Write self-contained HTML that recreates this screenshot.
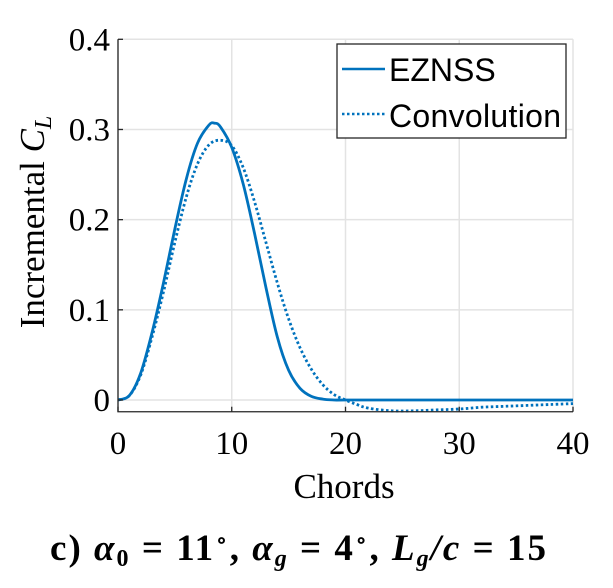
<!DOCTYPE html>
<html><head><meta charset="utf-8"><style>
body{margin:0;background:#fff;}
svg text{font-family:"Liberation Serif",serif;}
</style></head><body>
<svg width="613" height="583" viewBox="0 0 613 583">
<g id="grid"></g>
<g id="series"></g>
<g id="axes"></g>
<g>
<rect x="337" y="44" width="229" height="94" fill="#fff" stroke="#262626" stroke-width="1.3"/>
<line x1="342" y1="69" x2="385" y2="69" stroke="#0072BD" stroke-width="2.5"/>
<text x="389" y="81" font-size="32" style="font-family:'Liberation Sans',sans-serif">EZNSS</text>
<line x1="342" y1="114" x2="385" y2="114" stroke="#0072BD" stroke-width="2.5" stroke-dasharray="2.5,2.5"/>
<text x="389" y="127" font-size="32" textLength="172" style="font-family:'Liberation Sans',sans-serif">Convolution</text>
</g>
<text transform="translate(44,222) rotate(-90)" text-anchor="middle" font-size="35">Incremental <tspan font-style="italic">C</tspan><tspan font-style="italic" font-size="24" dy="7">L</tspan></text>
<text x="344" y="498" text-anchor="middle" font-size="35">Chords</text>
<text x="298" y="560" text-anchor="middle" font-size="37" font-weight="bold" textLength="496">c) <tspan font-style="italic">α</tspan><tspan font-size="24" dy="6">0</tspan><tspan dy="-6"> = 11</tspan><tspan dy="-13" font-size="20">∘</tspan><tspan dy="13">, </tspan><tspan font-style="italic">α</tspan><tspan font-style="italic" font-size="24" dy="6">g</tspan><tspan dy="-6"> = 4</tspan><tspan dy="-13" font-size="20">∘</tspan><tspan dy="13">, </tspan><tspan font-style="italic">L</tspan><tspan font-style="italic" font-size="24" dy="6">g</tspan><tspan dy="-6" font-style="italic">/c</tspan><tspan> = 15</tspan></text>
</svg>
<script>
const xTicks=[0,10,20,30,40];
const yTicks=[0,0.1,0.2,0.3,0.4];
const yTickLabels=["0","0.1","0.2","0.3","0.4"];
const eznssX=[0,1,2,3,4,5,6,7,8,8.5,9,10,11,12,13,14,15,16,17,18,19,20,25,30,35,40];
const eznssY=[0,0.005,0.03,0.075,0.13,0.19,0.245,0.285,0.305,0.307,0.303,0.28,0.24,0.185,0.125,0.07,0.033,0.013,0.004,0.001,0,0,0,0,0,0];
const convX=[0,1,2,3,4,5,6,7,8,9,10,11,12,13,14,15,16,17,18,19,20,21,22,24,26,28,30,32,34,36,38,40];
const convY=[0,0.005,0.028,0.07,0.12,0.175,0.225,0.262,0.283,0.288,0.282,0.258,0.22,0.175,0.13,0.09,0.058,0.034,0.017,0.006,0,-0.005,-0.009,-0.012,-0.012,-0.011,-0.01,-0.008,-0.007,-0.006,-0.005,-0.004];
const X0=118,X1=573,Y0=400,Y1=39.3,YMIN=-0.013;
const sx=v=>X0+(v-0)/40*(X1-X0);
const sy=v=>Y0-(v/0.4)*(Y0-Y1);
const NS="http://www.w3.org/2000/svg";
const grid=document.getElementById('grid'),axes=document.getElementById('axes'),series=document.getElementById('series');
function mk(tag,attrs,parent){const e=document.createElementNS(NS,tag);for(const k in attrs)e.setAttribute(k,attrs[k]);parent.appendChild(e);return e;}
const yBot=sy(YMIN);
xTicks.forEach(t=>{
 const g=mk('line',{x1:sx(t),x2:sx(t),y1:Y1,y2:yBot,stroke:'#e3e3e3','stroke-width':1.5},grid);
 
 
 const tk=mk('line',{x1:sx(t),x2:sx(t),y1:yBot,y2:yBot-5,stroke:'#262626','stroke-width':1.3},axes);
 
 
 const l=mk('text',{x:sx(t),y:454,'text-anchor':'middle','font-size':33},axes);l.textContent=t;
 
 
});
yTicks.forEach((t,i)=>{
 const g=mk('line',{x1:X0,x2:X1,y1:sy(t),y2:sy(t),stroke:'#e3e3e3','stroke-width':1.5},grid);
 
 
 const tk=mk('line',{x1:X0,x2:X0+5,y1:sy(t),y2:sy(t),stroke:'#262626','stroke-width':1.3},axes);
 
 
 const l=mk('text',{x:110,y:sy(t)+11,'text-anchor':'end','font-size':33},axes);l.textContent=yTickLabels[i];
 
 
});
const ax=mk('path',{d:`M${X0},${Y1} L${X0},${yBot} L${X1},${yBot}`,fill:'none',stroke:'#262626','stroke-width':1.3},axes);


function path(xs,ys){
 const p=xs.map((x,i)=>[sx(x),sy(ys[i])]);
 let d='M'+p[0][0].toFixed(1)+','+p[0][1].toFixed(1);
 for(let i=0;i<p.length-1;i++){
  const a=p[Math.max(i-1,0)],b=p[i],c=p[i+1],e=p[Math.min(i+2,p.length-1)];
  const c1=[b[0]+(c[0]-a[0])/6,b[1]+(c[1]-a[1])/6],c2=[c[0]-(e[0]-b[0])/6,c[1]-(e[1]-b[1])/6];
  d+=` C${c1[0].toFixed(1)},${c1[1].toFixed(1)} ${c2[0].toFixed(1)},${c2[1].toFixed(1)} ${c[0].toFixed(1)},${c[1].toFixed(1)}`;
 }
 return d;
}
const p1=mk('path',{d:path(eznssX,eznssY),fill:'none',stroke:'#0072BD','stroke-width':2.8,'stroke-linejoin':'round'},series);


const p2=mk('path',{d:path(convX,convY),fill:'none',stroke:'#0072BD','stroke-width':2.8,'stroke-dasharray':'2.5,2.5'},series);


</script>
</body></html>
